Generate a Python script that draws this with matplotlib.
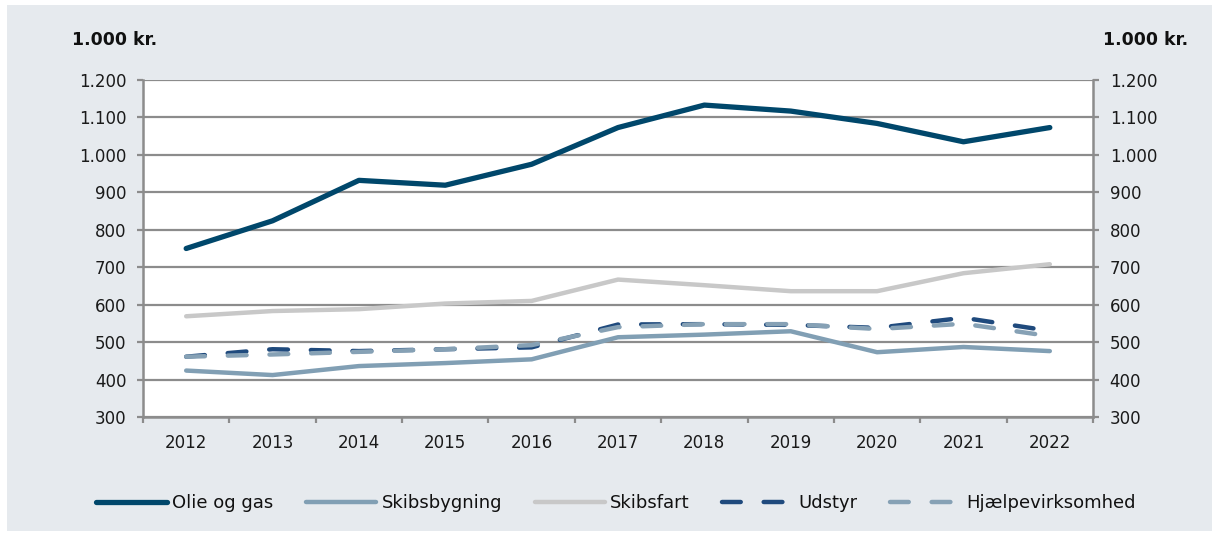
import numpy as np
import matplotlib
matplotlib.use("Agg")
import matplotlib.pyplot as plt
from matplotlib.patches import Rectangle
from matplotlib.ticker import FuncFormatter

# Data (1.000 kr.)
years = [2012, 2013, 2014, 2015, 2016, 2017, 2018, 2019, 2020, 2021, 2022]
olie_og_gas = [750, 824, 932, 919, 975, 1073, 1133, 1117, 1084, 1035, 1073]
skibsbygning = [424, 412, 436, 444, 454, 513, 520, 529, 473, 487, 476]
skibsfart = [569, 583, 588, 603, 610, 667, 652, 636, 636, 684, 708]
udstyr = [461, 481, 476, 481, 486, 547, 548, 546, 538, 565, 530]
hjaelp = [461, 467, 474, 481, 492, 540, 548, 548, 535, 549, 516]

plt.rcParams['font.family'] = ['DejaVu Sans']
plt.rcParams['lines.scale_dashes'] = False

W, H = 1212, 533
fig = plt.figure(figsize=(W / 100, H / 100), dpi=100, facecolor='white')
# light grey panel behind everything
fig.patches.append(Rectangle((7 / W, 2 / H), 1 - 7 / W, 1 - 7 / H,
                             transform=fig.transFigure, facecolor='#e6eaee',
                             edgecolor='none', zorder=-10))

ax = fig.add_axes([143 / W, 1 - 417 / H, (1093 - 143) / W, (417 - 80) / H])
ax.set_facecolor('white')

x = np.arange(len(years)) + 0.5
grid_col = '#8c8c8c'
dash = (0, (13.5, 16.5))

ax.plot(x, olie_og_gas, color='#00476b', lw=3.8, solid_capstyle='round',
        solid_joinstyle='round', label='Olie og gas', zorder=5)
ax.plot(x, skibsbygning, color='#819fb4', lw=3.2, solid_capstyle='round',
        solid_joinstyle='round', label='Skibsbygning', zorder=3)
ax.plot(x, skibsfart, color='#c8c8c8', lw=3.2, solid_capstyle='round',
        solid_joinstyle='round', label='Skibsfart', zorder=3)
ax.plot(x, udstyr, color='#1f4a7d', lw=3.2, linestyle=dash,
        dash_capstyle='round', label='Udstyr', zorder=4)
ax.plot(x, hjaelp, color='#86a1b5', lw=3.2, linestyle=dash,
        dash_capstyle='round', label='Hjælpevirksomhed', zorder=4)

ax.set_xlim(0, len(years))
ax.set_ylim(300, 1200)
ax.set_yticks(np.arange(300, 1201, 100))
ax.yaxis.set_major_formatter(FuncFormatter(lambda v, p: f"{int(v):,}".replace(',', '.')))
ax.grid(axis='y', color=grid_col, lw=1.6, zorder=1)

ax.set_xticks(np.arange(0, len(years) + 1))
ax.set_xticklabels([])
ax.set_xticks(x, minor=True)
ax.set_xticklabels([str(y) for y in years], minor=True)
ax.tick_params(axis='x', which='major', length=4, width=1.6, color=grid_col, direction='out')
ax.tick_params(axis='x', which='minor', length=0, pad=12, labelsize=12, labelcolor='#1a1a1a')
ax.tick_params(axis='y', length=4, width=1.6, color=grid_col, direction='out',
               left=True, right=True, labelleft=True, labelright=True,
               labelsize=12, labelcolor='#1a1a1a', pad=8)

for s in ['left', 'right', 'bottom']:
    ax.spines[s].set_color(grid_col)
    ax.spines[s].set_linewidth(1.8)
ax.spines['top'].set_visible(False)

fig.text(72 / W, 1 - 40 / H, '1.000 kr.', fontsize=12.5, fontweight='bold',
         va='center', ha='left', color='#111111')
fig.text(1103 / W, 1 - 40 / H, '1.000 kr.', fontsize=12.5, fontweight='bold',
         va='center', ha='left', color='#111111')

leg = fig.legend(loc='center', bbox_to_anchor=(0.508, 1 - 503 / H), ncol=5,
                 frameon=False, fontsize=13, handlelength=3.9,
                 handletextpad=0.3, columnspacing=1.8)
for t in leg.get_texts():
    t.set_color('#111111')

fig.savefig('out.png', dpi=100, facecolor=fig.get_facecolor())
